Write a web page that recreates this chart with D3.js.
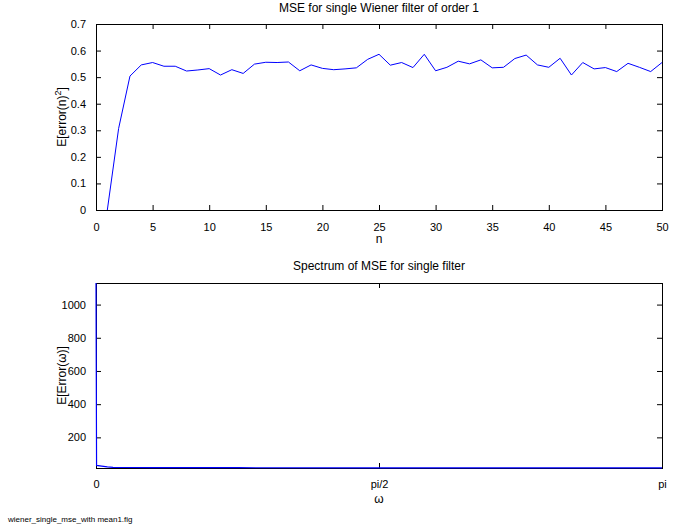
<!DOCTYPE html>
<html><head><meta charset="utf-8">
<script src="https://cdn.jsdelivr.net/npm/d3@7"></script>
<style>
body{margin:0;background:#fff;}
text{font-family:"Liberation Sans",Arial,Helvetica,sans-serif;fill:#000;}
</style></head>
<body><svg id="c" width="682" height="529"></svg>
<script>
// Top plot: MSE per iteration
const nValues = [1,2,3,4,5,6,7,8,9,10,11,12,13,14,15,16,17,18,19,20,21,22,23,24,25,26,27,28,29,30,31,32,33,34,35,36,37,38,39,40,41,42,43,44,45,46,47,48,49,50];
const mseValues = [0,0.307,0.504,0.546,0.555,0.541,0.541,0.523,0.527,0.532,0.508,0.528,0.514,0.549,0.556,0.555,0.557,0.524,0.546,0.533,0.528,0.531,0.535,0.567,0.586,0.545,0.555,0.536,0.586,0.524,0.537,0.560,0.550,0.565,0.535,0.537,0.570,0.583,0.546,0.537,0.571,0.508,0.555,0.531,0.536,0.521,0.552,0.537,0.521,0.555];
const topXTicks = [0,5,10,15,20,25,30,35,40,45,50];
const topYTicks = [0,0.1,0.2,0.3,0.4,0.5,0.6,0.7];

// Bottom plot: spectrum of MSE (omega as fraction of pi)
const omegaFrac = [0,0.001,0.01,0.02,0.03,0.05,0.1,0.25,0.5,0.75,1];
const spectrumValues = [1130,31,27,22,19.5,18.5,17.8,17.2,16.8,16.5,16.3];
const botXTicks = [0, Math.PI/2, Math.PI];
const botXTickLabels = ["0","pi/2","pi"];
const botYTicks = [200,400,600,800,1000];

const svg = d3.select("#c");
const L = 96, R = 662;
const tk = 5;

function frame(g, x0, x1, y0, y1){
  g.append("rect").attr("x",x0).attr("y",y0).attr("width",x1-x0).attr("height",y1-y0)
   .attr("fill","none").attr("stroke","#000").attr("stroke-width",1).attr("shape-rendering","crispEdges");
}

// ---------- Top plot ----------
const T1 = 24, B1 = 210;
const x1 = d3.scaleLinear().domain([0,50]).range([L,R]);
const y1 = d3.scaleLinear().domain([0,0.7]).range([B1,T1]);
const g1 = svg.append("g");

g1.append("g").attr("transform",`translate(0,${B1})`)
  .call(d3.axisBottom(x1).tickValues(topXTicks).tickSize(-tk).tickPadding(13).tickFormat(d3.format("d")));
g1.append("g").attr("transform",`translate(0,${T1})`)
  .call(d3.axisTop(x1).tickValues(topXTicks).tickSize(-tk).tickFormat(""));
g1.append("g").attr("transform",`translate(${L},0)`)
  .call(d3.axisLeft(y1).tickValues(topYTicks).tickSize(-tk).tickPadding(10).tickFormat(d=>d===0?"0":d3.format(".1f")(d)));
g1.append("g").attr("transform",`translate(${R},0)`)
  .call(d3.axisRight(y1).tickValues(topYTicks).tickSize(-tk).tickFormat(""));
frame(g1, L, R, T1, B1);

const line1 = d3.line().x((d,i)=>x1(nValues[i])).y(d=>y1(d));
g1.append("path").datum(mseValues).attr("d",line1).attr("fill","none").attr("stroke","#0000ff").attr("stroke-width",1);

g1.append("text").attr("x",(L+R)/2).attr("y",12).attr("text-anchor","middle").attr("font-size",12)
  .text("MSE for single Wiener filter of order 1");
g1.append("text").attr("x",(L+R)/2).attr("y",243).attr("text-anchor","middle").attr("font-size",12).text("n");
const yl1 = g1.append("text").attr("transform",`translate(66,${(T1+B1)/2}) rotate(-90)`).attr("text-anchor","middle").attr("font-size",12);
yl1.append("tspan").text("E[error(n)");
yl1.append("tspan").attr("font-size",9).attr("dy",-5).text("2");
yl1.append("tspan").attr("dy",5).text("]");

// ---------- Bottom plot ----------
const T2 = 283, B2 = 468;
const x2 = d3.scaleLinear().domain([0,Math.PI]).range([L,R]);
const y2 = d3.scaleLinear().domain([15.5,1130]).range([B2,T2]);
const g2 = svg.append("g");

g2.append("g").attr("transform",`translate(0,${B2})`)
  .call(d3.axisBottom(x2).tickValues(botXTicks).tickSize(-tk).tickPadding(12).tickFormat((d,i)=>botXTickLabels[i]));
g2.append("g").attr("transform",`translate(0,${T2})`)
  .call(d3.axisTop(x2).tickValues(botXTicks).tickSize(-tk).tickFormat(""));
g2.append("g").attr("transform",`translate(${L},0)`)
  .call(d3.axisLeft(y2).tickValues(botYTicks).tickSize(-tk).tickPadding(10).tickFormat(d3.format("d")));
g2.append("g").attr("transform",`translate(${R},0)`)
  .call(d3.axisRight(y2).tickValues(botYTicks).tickSize(-tk).tickFormat(""));
frame(g2, L, R, T2, B2);

const line2 = d3.line().x((d,i)=>x2(omegaFrac[i]*Math.PI)).y(d=>y2(d));
g2.append("path").datum(spectrumValues).attr("d",line2).attr("fill","none").attr("stroke","#0000ff").attr("stroke-width",1.2);

g2.append("text").attr("x",(L+R)/2).attr("y",270).attr("text-anchor","middle").attr("font-size",12)
  .text("Spectrum of MSE for single filter");
g2.append("text").attr("x",(L+R)/2).attr("y",503).attr("text-anchor","middle").attr("font-size",12).text("ω");
g2.append("text").attr("transform",`translate(66,${(T2+B2)/2}) rotate(-90)`).attr("text-anchor","middle").attr("font-size",12)
  .text("E[Error(ω)]");

svg.selectAll(".domain").remove();
svg.selectAll(".tick line").attr("stroke","#000");
svg.selectAll(".tick text").attr("font-size",11).attr("font-family","Liberation Sans, Arial, sans-serif").attr("fill","#000");

svg.append("text").attr("x",8).attr("y",522).attr("font-size",8).text("wiener_single_mse_with mean1.fig");
</script></body></html>
